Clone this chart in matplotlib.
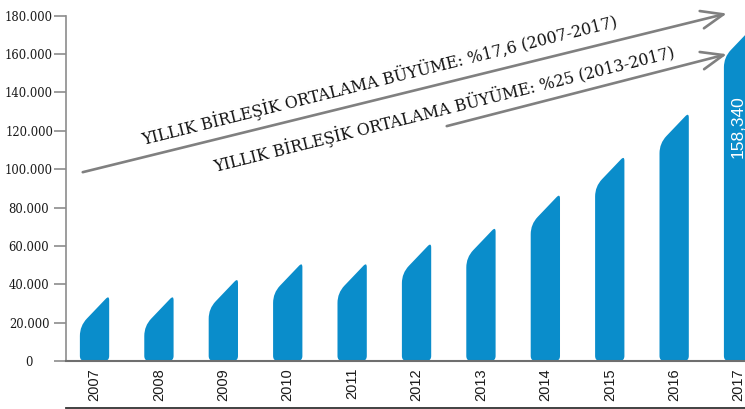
import matplotlib
matplotlib.use("Agg")
import matplotlib.pyplot as plt
from matplotlib.path import Path
from matplotlib.patches import PathPatch, FancyArrowPatch
from matplotlib.lines import Line2D

# ---- data -------------------------------------------------------------
years = ["2007", "2008", "2009", "2010", "2011", "2012",
         "2013", "2014", "2015", "2016", "2017"]
values = [18300, 18300, 27300, 35500, 35500, 45800,
          54000, 71300, 91000, 113500, 158340]
value_label = "158,340"
ytick_values = [0, 20000, 40000, 60000, 80000, 100000,
                120000, 140000, 160000, 180000]
ytick_labels = ["0", "20.000", "40.000", "60.000", "80.000", "100.000",
                "120.000", "140.000", "160.000", "180.000"]
growth_texts = ["YILLIK BİRLEŞİK ORTALAMA BÜYÜME: %17,6 (2007-2017)",
                "YILLIK BİRLEŞİK ORTALAMA BÜYÜME: %25 (2013-2017)"]

# ---- style ------------------------------------------------------------
BAR_COLOR = "#0a8dcb"
ARROW_COLOR = "#808080"
BAR_WIDTH = 0.455        # category units
SLANT_RISE = 16000       # height gained across the slanted top

W, H, DPI = 745, 409, 100
fig = plt.figure(figsize=(W / DPI, H / DPI), dpi=DPI)
ax_left, ax_bottom, ax_top = 66, 48, 393.3
ax = fig.add_axes([ax_left / W, ax_bottom / H, (W - ax_left) / W,
                   (ax_top - ax_bottom) / H])
ax.set_xlim(-0.443, 10.10)
ax.set_ylim(0, 180000)

# pixel -> data conversion factors for rounded corners
ax_w_px = W - ax_left
ax_h_px = ax_top - ax_bottom
kx = (10.10 + 0.443) / ax_w_px
ky = 180000 / ax_h_px


def slanted_bar(center, value):
    """Bar with rounded base and a slanted, rounded top."""
    x0 = center - BAR_WIDTH / 2
    x1 = center + BAR_WIDTH / 2
    top = value + SLANT_RISE
    w_px = BAR_WIDTH / kx
    r_px = SLANT_RISE / ky
    L = (w_px ** 2 + r_px ** 2) ** 0.5
    ux, uy = w_px / L, r_px / L
    rb, rt, rs = 5, 5, 10
    verts = [
        (x0 + rb * kx, 0),
        (x1 - rb * kx, 0),
        (x1, 0), (x1, rb * ky),
        (x1, top - rt * ky),
        (x1, top), (x1 - rt * ux * kx, top - rt * uy * ky),
        (x0 + rs * ux * kx, value + rs * uy * ky),
        (x0, value), (x0, value - rs * ky),
        (x0, rb * ky),
        (x0, 0), (x0 + rb * kx, 0),
        (x0 + rb * kx, 0),
    ]
    codes = [Path.MOVETO, Path.LINETO,
             Path.CURVE3, Path.CURVE3,
             Path.LINETO,
             Path.CURVE3, Path.CURVE3,
             Path.LINETO,
             Path.CURVE3, Path.CURVE3,
             Path.LINETO,
             Path.CURVE3, Path.CURVE3,
             Path.CLOSEPOLY]
    return Path(verts, codes)


for i, v in enumerate(values):
    ax.add_patch(PathPatch(slanted_bar(i, v), facecolor=BAR_COLOR,
                           edgecolor="none", zorder=2))

# value label inside the last bar
ax.text(len(values) - 1, values[-1] - 20000, value_label, rotation=90,
        ha="center", va="top", color="white", fontsize=12.5,
        family="Liberation Sans", zorder=3)

# ---- axes styling -----------------------------------------------------
for s in ("top", "right"):
    ax.spines[s].set_visible(False)
ax.spines["left"].set_color("#8c8c8c")
ax.spines["left"].set_linewidth(1.2)
ax.spines["bottom"].set_color("#6e6e6e")
ax.spines["bottom"].set_linewidth(1.5)
ax.spines["bottom"].set_zorder(4)

ax.set_yticks(ytick_values)
ax.set_yticklabels(ytick_labels, family="DejaVu Serif", fontsize=8.4,
                   color="#1a1a1a", ha="center")
ax.tick_params(axis="y", length=8.6, width=1.2, color="#8c8c8c", pad=18)
ax.yaxis.get_major_ticks()[0].tick1line.set_color("#cccccc")

ax.set_xticks(range(len(years)))
ax.set_xticklabels(years, rotation=90, family="Liberation Sans",
                   fontsize=10.5, color="#1a1a1a")
ax.tick_params(axis="x", length=0, pad=5)

# rule under the year labels
fig.add_artist(Line2D([ax_left / W, 1.0], [1 - 407.5 / H, 1 - 407.5 / H],
                      color="#333333", linewidth=1.3))

# ---- growth arrows and captions --------------------------------------
arrows = [((-0.225, 98080), (9.86, 181500)),
          ((5.427, 122080), (9.86, 160300))]
for start, end in arrows:
    ax.add_patch(FancyArrowPatch(
        start, end, arrowstyle="->,head_length=0.8,head_width=0.32",
        mutation_scale=20, color=ARROW_COLOR, linewidth=1.9,
        clip_on=False, zorder=3))

caption_pos = [(4.43, 146500), (5.42, 131600)]
caption_rot = [14.0, 14.0]
for txt, (x, y), rot in zip(growth_texts, caption_pos, caption_rot):
    ax.text(x, y, txt, rotation=rot, rotation_mode="anchor",
            ha="center", va="center", family="DejaVu Serif",
            fontsize=11.4, color="#111111", zorder=3)

fig.savefig("out.png", dpi=DPI)
